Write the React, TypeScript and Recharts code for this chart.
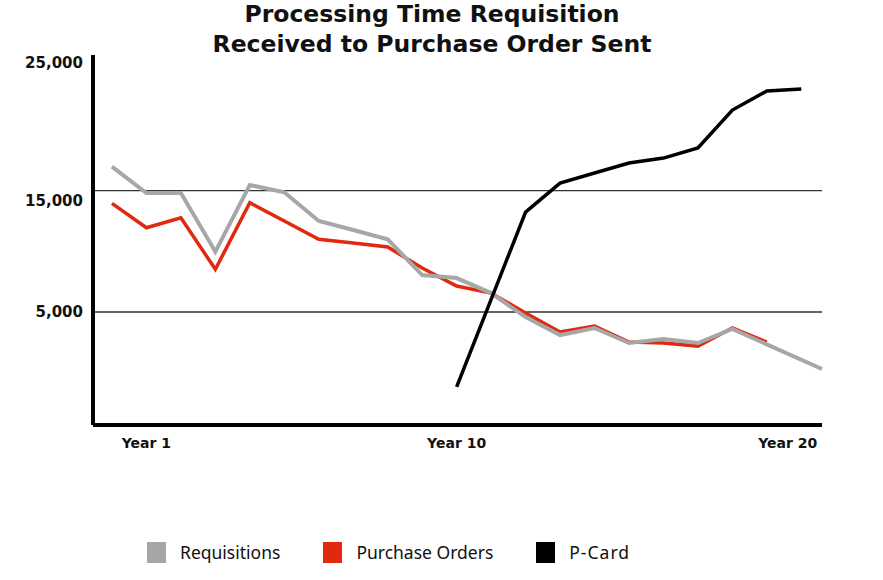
import React from "react";
import { LineChart, Line, XAxis, YAxis, ReferenceLine } from "recharts";

// year index along the bottom axis (the last requisition point sits a bit past year 20)
const years = [0, 1, 2, 3, 4, 5, 6, 7, 8, 9, 10, 11, 12, 13, 14, 15, 16, 17, 18, 19, 20, 20.6];

const requisitions = [
  16980, 14810, 14810, 9970, 15470, 14870, 12500, 11760, 10990, 8050, 7800,
  6560, 4580, 3100, 3680, 2440, 2770, 2440, 3600, null, null, 300,
];
const purchaseOrders = [
  13960, 11950, 12770, 8520, 14010, 12500, 10990, 10690, 10360, 8630, 7140,
  6560, 4910, 3350, 3840, 2520, 2440, 2190, 3680, 2520, null, null,
];
const pCard = [
  null, null, null, null, null, null, null, null, null, null, -1180,
  null, 13240, 15630, 16460, 17280, 17690, 18520, 21650, 23220, 23380, null,
];

const yTicks = [5000, 15000, 25000];
const gridValues = [5000, 15000];
const xTicks = [1, 10, 20];
const xTickLabels = ["Year 1", "Year 10", "Year 20"];

const series = [
  { key: "purchaseOrders", name: "Purchase Orders", color: "#e0290f", width: 3.5 },
  { key: "requisitions", name: "Requisitions", color: "#a7a7a7", width: 4 },
  { key: "pCard", name: "P-Card", color: "#000000", width: 3.5 },
];
const legendOrder = ["requisitions", "purchaseOrders", "pCard"];

const data = years.map((year, i) => ({
  year,
  requisitions: requisitions[i],
  purchaseOrders: purchaseOrders[i],
  pCard: pCard[i],
}));

const BOLD_FONT = "'DejaVu Sans', sans-serif";
const FONT = "'Noto Sans', 'Open Sans', sans-serif";

const YTick = (props: any) => {
  const { x, y, payload } = props;
  // labels in the original sit slightly off their gridlines
  const nudge = payload.value === 25000 ? -7 : payload.value === 15000 ? 10 : 0;
  return (
    <text
      x={x}
      y={y + nudge}
      dy="0.35em"
      textAnchor="end"
      fontFamily={BOLD_FONT}
      fontWeight={700}
      fontSize={15}
      fill="#111"
    >
      {payload.value.toLocaleString("en-US")}
    </text>
  );
};

const XTick = (props: any) => {
  const { x, y, payload, index } = props;
  const last = index === xTicks.length - 1;
  return (
    <text
      x={last ? x + 16 : x}
      y={y}
      dy="0.71em"
      textAnchor={last ? "end" : "middle"}
      fontFamily={BOLD_FONT}
      fontWeight={700}
      fontSize={14}
      fill="#111"
    >
      {xTickLabels[xTicks.indexOf(payload.value)]}
    </text>
  );
};

export default function App() {
  return (
    <div
      style={{
        position: "absolute",
        left: 0,
        top: 0,
        width: 883,
        height: 580,
        background: "#fff",
        fontFamily: FONT,
      }}
    >
      <div
        style={{
          position: "absolute",
          top: -1,
          left: 0,
          width: 864,
          textAlign: "center",
          fontFamily: BOLD_FONT,
          fontWeight: 700,
          fontSize: 23.5,
          lineHeight: "30px",
          color: "#111",
        }}
      >
        <div>Processing Time Requisition</div>
        <div>Received to Purchase Order Sent</div>
      </div>

      <LineChart
        width={883}
        height={580}
        data={data}
        margin={{ top: 55, right: 61, bottom: 125, left: 0 }}
        style={{ position: "absolute", left: 0, top: 0 }}
      >
        {gridValues.map((v) => (
          <ReferenceLine key={v} y={v} stroke="#333" strokeWidth={1.3} />
        ))}
        <XAxis
          dataKey="year"
          type="number"
          domain={[-0.55, 20.6]}
          ticks={xTicks}
          interval={0}
          height={30}
          tickLine={false}
          tickSize={0}
          tickMargin={13}
          axisLine={{ stroke: "#000", strokeWidth: 4 }}
          tick={<XTick />}
        />
        <YAxis
          type="number"
          width={93}
          domain={[-4316, 26190]}
          ticks={yTicks}
          interval={0}
          tickLine={false}
          tickSize={0}
          tickMargin={10}
          axisLine={{ stroke: "#000", strokeWidth: 4 }}
          tick={<YTick />}
        />
        {series.map((s) => (
          <Line
            key={s.key}
            type="linear"
            dataKey={s.key}
            name={s.name}
            stroke={s.color}
            strokeWidth={s.width}
            dot={false}
            activeDot={false}
            connectNulls
            isAnimationActive={false}
          />
        ))}
      </LineChart>

      <div
        style={{
          position: "absolute",
          top: 540,
          left: 147,
          display: "flex",
          alignItems: "center",
          fontSize: 17.5,
          color: "#111",
        }}
      >
        {legendOrder.map((key, i) => {
          const s = series.find((item) => item.key === key)!;
          return (
            <div
              key={key}
              style={{ display: "flex", alignItems: "center", marginRight: i < 2 ? 43 : 0 }}
            >
              <span
                style={{
                  display: "inline-block",
                  width: 19,
                  height: 21,
                  background: s.color === "#a7a7a7" ? "#a6a6a6" : s.color,
                  marginRight: 14,
                }}
              />
              <span style={{ letterSpacing: key === "pCard" ? 1 : 0 }}>{s.name}</span>
            </div>
          );
        })}
      </div>
    </div>
  );
}
